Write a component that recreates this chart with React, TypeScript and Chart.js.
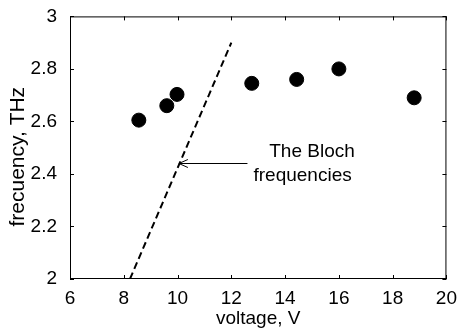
import React, { useEffect, useRef } from "react";
import { Chart, registerables } from "chart.js";
Chart.register(...registerables);

const voltage = [8.56, 9.6, 9.98, 12.76, 14.43, 16.0, 18.8];
const frequency = [2.605, 2.66, 2.703, 2.745, 2.76, 2.8, 2.69];
const blochX = [8.23, 12.0];
const blochY = [2.0, 2.9];
const xTicks = [6, 8, 10, 12, 14, 16, 18, 20];
const yTicks = [2, 2.2, 2.4, 2.6, 2.8, 3];
const annotationLines = ["The Bloch", "frequencies"];
const arrowTip = { x: 10.05, y: 2.44 };
const arrowTail = { x: 12.6, y: 2.44 };
const textPos = [
  { x: 15.0, y: 2.483 },
  { x: 14.65, y: 2.395 },
];
const yTitle = "frecuency, THz";
const xTitle = "voltage, V";

const FONT = "'Liberation Sans', Arial, sans-serif";
const FS = 19;

const framePlugin = {
  id: "frame",
  afterDatasetsDraw(chart: any) {
    const { ctx, chartArea: a, scales } = chart;
    const xs = scales.x;
    const ys = scales.y;
    ctx.save();
    ctx.strokeStyle = "#000";
    ctx.lineWidth = 1;
    ctx.strokeRect(a.left + 0.5, a.top + 0.5, a.right - a.left - 1, a.bottom - a.top - 1);
    const tl = 4;
    ctx.beginPath();
    for (const v of xTicks) {
      const px = Math.round(xs.getPixelForValue(v)) + 0.5;
      ctx.moveTo(px, a.bottom);
      ctx.lineTo(px, a.bottom - tl);
      ctx.moveTo(px, a.top);
      ctx.lineTo(px, a.top + tl);
    }
    for (const v of yTicks) {
      const py = Math.round(ys.getPixelForValue(v)) + 0.5;
      ctx.moveTo(a.left, py);
      ctx.lineTo(a.left + tl, py);
      ctx.moveTo(a.right, py);
      ctx.lineTo(a.right - tl, py);
    }
    ctx.stroke();

    // annotation arrow
    const tx = xs.getPixelForValue(arrowTip.x);
    const ty = Math.round(ys.getPixelForValue(arrowTip.y)) + 0.5;
    const sx = xs.getPixelForValue(arrowTail.x);
    ctx.beginPath();
    ctx.moveTo(sx, ty);
    ctx.lineTo(tx, ty);
    ctx.moveTo(tx + 9, ty - 4);
    ctx.lineTo(tx, ty);
    ctx.lineTo(tx + 9, ty + 4);
    ctx.stroke();

    ctx.fillStyle = "#000";
    ctx.font = `${FS}px ${FONT}`;
    ctx.textAlign = "center";
    ctx.textBaseline = "middle";
    annotationLines.forEach((t, i) => {
      ctx.fillText(t, xs.getPixelForValue(textPos[i].x), ys.getPixelForValue(textPos[i].y));
    });

    // y axis title
    ctx.font = `21px ${FONT}`;
    ctx.translate(18, (a.top + a.bottom) / 2 + 9);
    ctx.rotate(-Math.PI / 2);
    ctx.fillText(yTitle, 0, 0);
    ctx.restore();
  },
};

export default function App() {
  const ref = useRef<HTMLCanvasElement>(null);
  useEffect(() => {
    if (!ref.current) return;
    const chart = new Chart(ref.current, {
      type: "scatter",
      data: {
        datasets: [
          {
            type: "line",
            data: blochX.map((x, i) => ({ x, y: blochY[i] })),
            borderColor: "#000",
            borderWidth: 2,
            borderDash: [7, 4],
            pointRadius: 0,
            fill: false,
          } as any,
          {
            data: voltage.map((x, i) => ({ x, y: frequency[i] })),
            backgroundColor: "#000",
            borderColor: "#000",
            pointRadius: 7,
            pointHoverRadius: 7,
          },
        ],
      },
      options: {
        animation: false,
        responsive: false,
        events: [],
        layout: { padding: { left: 0, right: 10, top: 16, bottom: 0 } },
        plugins: { legend: { display: false }, tooltip: { enabled: false } },
        scales: {
          x: {
            type: "linear",
            min: 6,
            max: 20,
            border: { display: false },
            grid: { display: false },
            afterBuildTicks: (s: any) => {
              s.ticks = xTicks.map((v) => ({ value: v }));
            },
            afterFit: (s: any) => {
              s.height = 53;
            },
            ticks: {
              color: "#000",
              font: { family: FONT, size: FS },
              padding: 0,
              maxRotation: 0,
              callback: (v: any) => String(v),
            },
            title: {
              display: true,
              text: xTitle,
              color: "#000",
              font: { family: FONT, size: FS },
              padding: { top: 0, bottom: 2 },
            },
          },
          y: {
            type: "linear",
            min: 2,
            max: 3,
            border: { display: false },
            grid: { display: false },
            afterBuildTicks: (s: any) => {
              s.ticks = yTicks.map((v) => ({ value: v }));
            },
            afterFit: (s: any) => {
              s.width = 70;
            },
            ticks: {
              color: "#000",
              font: { family: FONT, size: FS },
              padding: 5,
              callback: (v: any) => String(Number(Number(v).toFixed(1))),
            },
          },
        },
      },
      plugins: [framePlugin],
    });
    return () => chart.destroy();
  }, []);
  return (
    <div style={{ position: "fixed", left: 0, top: 0, width: 457, height: 332, background: "#fff" }}>
      <canvas ref={ref} width={457} height={332} style={{ width: 457, height: 332 }} />
    </div>
  );
}
